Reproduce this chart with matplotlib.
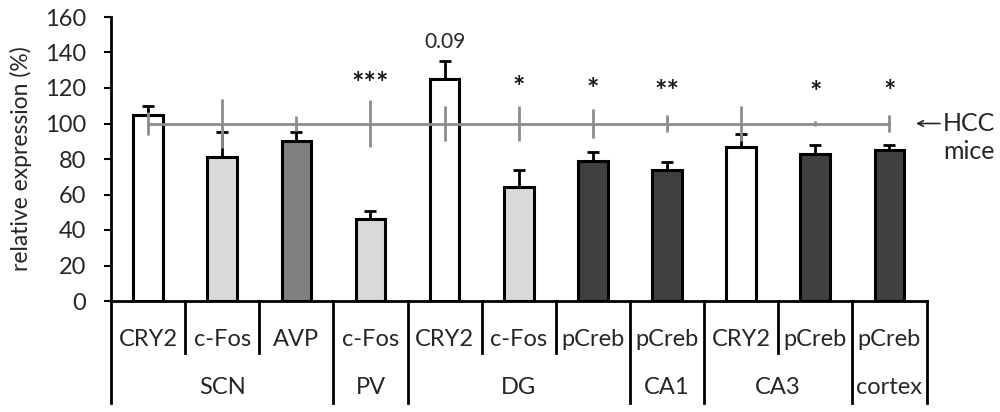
import matplotlib
matplotlib.use("Agg")
import matplotlib.pyplot as plt
import numpy as np

plt.rcParams['font.family'] = ['Lato', 'DejaVu Sans']

# ---- data ----
markers = ["CRY2", "c-Fos", "AVP", "c-Fos", "CRY2", "c-Fos", "pCreb", "pCreb", "CRY2", "pCreb", "pCreb"]
regions = ["SCN", "PV", "DG", "CA1", "CA3", "cortex"]
region_sizes = [3, 1, 3, 1, 2, 1]
values = [105, 81, 90, 46, 125, 64, 79, 74, 87, 83, 85]
errors = [5, 14, 5, 4.5, 10, 10, 5, 4.5, 7, 5, 3]
hcc_values = [100] * 11
hcc_errors = [6.5, 14, 4, 13, 10, 10, 8, 5, 10, 1.5, 5]
significance = ["", "", "", "***", "0.09", "*", "*", "**", "", "*", "*"]
sig_y = [0, 0, 0, 122, 146, 120, 119, 117.5, 0, 117, 118]
marker_colors = {"CRY2": "#ffffff", "c-Fos": "#d9d9d9", "AVP": "#808080", "pCreb": "#404040"}
yticks = [0, 20, 40, 60, 80, 100, 120, 140, 160]

fig = plt.figure(figsize=(10, 4.12), dpi=100)
ax = fig.add_axes([0.111, 1 - 301 / 412, 0.9265 - 0.111, (301 - 17) / 412])

x = np.arange(len(values))
colors = [marker_colors[m] for m in markers]
ax.bar(x, values, width=0.4, color=colors, edgecolor="black", linewidth=2.2, zorder=2)
ax.errorbar(x, values, yerr=[np.zeros(len(errors)), errors], fmt="none",
            ecolor="black", elinewidth=2, capsize=4, capthick=2, zorder=3)
ax.errorbar(x, hcc_values, yerr=hcc_errors, color="#8c8c8c", lw=2, elinewidth=2,
            capsize=0, zorder=4)

for xi, s, sy in zip(x, significance, sig_y):
    if s:
        if s == "0.09":
            ax.text(xi, sy, s, ha="center", va="center", fontsize=15, color="#262626")
        else:
            ax.text(xi, sy, s, ha="center", va="center", fontsize=21, color="#1a1a1a",
                    fontweight="bold")

ax.set_xlim(-0.5, len(values) - 0.5)
ax.set_ylim(0, 160)
ax.set_yticks(yticks)
ax.tick_params(axis="y", labelsize=17, width=1.5, length=5, direction="out", pad=13,
               labelcolor="#262626")
ax.set_xticks([])
ax.spines["top"].set_visible(False)
ax.spines["right"].set_visible(False)
ax.spines["left"].set_linewidth(2)
ax.spines["bottom"].set_linewidth(2)
ax.set_ylabel("relative expression (%)", fontsize=16.5, color="#262626")
ax.yaxis.set_label_coords(-0.097, 0.5)

# category table under the axis
trans = ax.get_xaxis_transform()
row1_y = -0.137
row2_y = -0.305
short_end = -0.183
long_end = -0.36
boundaries = np.arange(len(values) + 1) - 0.5
group_edges = set(np.cumsum([0] + region_sizes))
for i, b in enumerate(boundaries):
    end = long_end if i in group_edges else short_end
    ax.plot([b, b], [0, end], transform=trans, color="black", lw=2, clip_on=False)
for xi, m in zip(x, markers):
    ax.text(xi, row1_y, m, transform=trans, ha="center", va="center", fontsize=17,
            color="#262626")
start = 0
for r, n in zip(regions, region_sizes):
    center = start + (n - 1) / 2
    ax.text(center, row2_y, r, transform=trans, ha="center", va="center", fontsize=17,
            color="#262626")
    start += n

# HCC label
ax.annotate("", xy=(10.32, 100), xytext=(10.72, 100), xycoords="data",
            arrowprops=dict(arrowstyle="->", color="#262626", lw=1.2), annotation_clip=False)
ax.text(10.72, 100, "HCC", ha="left", va="center", fontsize=18, color="#262626")
ax.text(10.72, 84, "mice", ha="left", va="center", fontsize=18, color="#262626")

fig.savefig("out.png", dpi=100)
